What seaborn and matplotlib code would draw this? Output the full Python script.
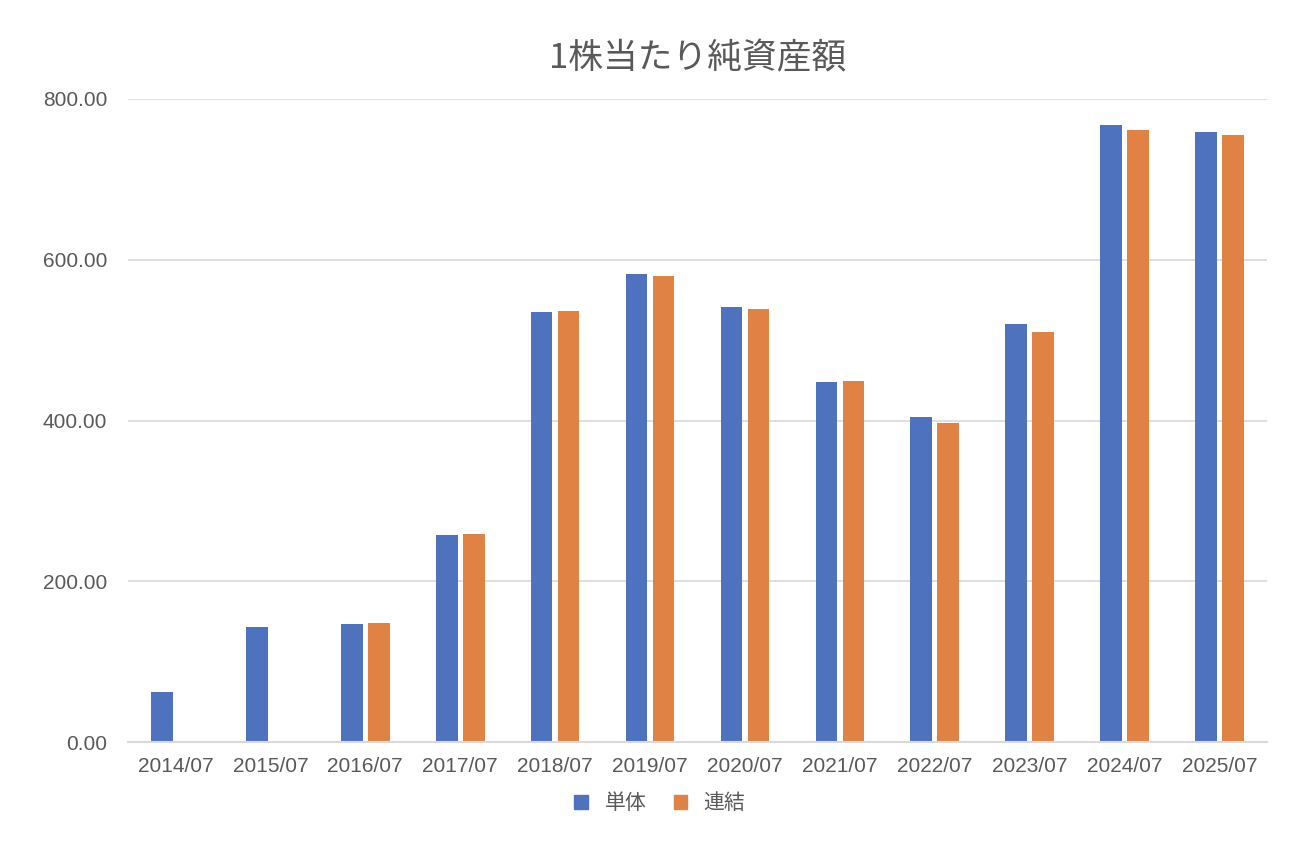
import numpy as np
import pandas as pd
import matplotlib
matplotlib.use("Agg")
import matplotlib.pyplot as plt
import seaborn as sns
from matplotlib.patches import Patch

categories = ["2014/07", "2015/07", "2016/07", "2017/07", "2018/07", "2019/07",
              "2020/07", "2021/07", "2022/07", "2023/07", "2024/07", "2025/07"]
tantai = [62, 143, 147, 258, 535, 582, 541, 448, 404, 520, 768, 759]
renketsu = [np.nan, np.nan, 148, 259, 536, 580, 539, 449, 397, 510, 761, 755]
series_names = ["単体", "連結"]
yticks = [0, 200, 400, 600, 800]

df = pd.DataFrame({
    "period": categories * 2,
    "value": tantai + renketsu,
    "series": [series_names[0]] * len(categories) + [series_names[1]] * len(categories),
})

sns.set_theme(style="white")
plt.rcParams['font.family'] = ['Liberation Sans', 'Noto Sans CJK JP', 'DejaVu Sans']

fig = plt.figure(figsize=(12.94, 8.5), dpi=100)
ax = fig.add_axes([128/1294, 108/850, (1267-128)/1294, (742-99)/850])

colors = ["#4E72BE", "#DF8244"]
sns.barplot(data=df, x="period", y="value", hue="series", palette=colors,
            width=0.57, gap=0.2, ax=ax, saturation=1, legend=False,
            linewidth=0, edgecolor="none")

ax.set_ylim(0, 800)
ax.set_xlim(-0.5, len(categories) - 0.5)
ax.set_yticks(yticks)
ax.set_yticklabels([f"{v:.2f}" for v in yticks])
ax.yaxis.grid(True, color="#D9D9D9", linewidth=1.2)
ax.set_axisbelow(True)
for s in ["top", "right", "left"]:
    ax.spines[s].set_visible(False)
ax.spines["bottom"].set_color("#D9D9D9")
ax.spines["bottom"].set_linewidth(1.5)
ax.tick_params(axis="both", length=0, labelsize=15, colors="#595959")
ax.tick_params(axis="y", pad=15)
ax.tick_params(axis="x", pad=11)
ax.set_xlabel("")
ax.set_ylabel("")

ax.set_title("1株当たり純資産額", fontsize=25, color="#595959",
             family=['Noto Sans CJK JP', 'DejaVu Sans'], pad=22)

handles = [Patch(facecolor=c, edgecolor=c) for c in colors]
fig.legend(handles, series_names, loc="center", bbox_to_anchor=(660/1294, 1 - 803/850),
           ncol=2, frameon=False, handlelength=0.65, handleheight=0.65,
           handletextpad=0.8, columnspacing=1.3,
           prop={"family": ['Noto Sans CJK JP', 'DejaVu Sans'], "size": 15},
           labelcolor="#595959")

fig.savefig("out.png", dpi=100)
